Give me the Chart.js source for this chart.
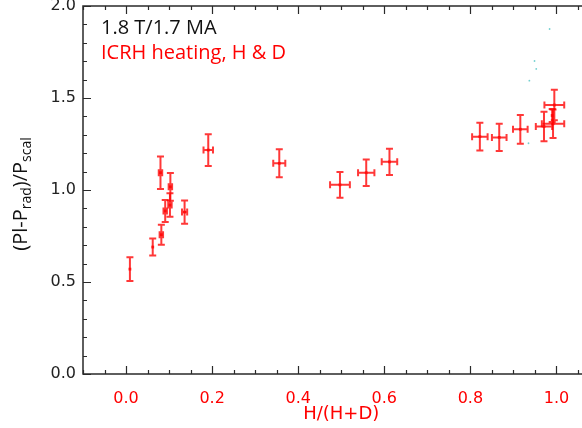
<!DOCTYPE html>
<html>
<head>
<meta charset="utf-8">
<script src="https://cdn.jsdelivr.net/npm/chart.js@4.4.1/dist/chart.umd.min.js"></script>
<style>
  html, body { margin: 0; padding: 0; background: #fff; }
</style>
</head>
<body>
<canvas id="chart" width="582" height="428"></canvas>
<script>
// H/(H+D) and its error
const hFraction    = [0.009, 0.062, 0.082, 0.080, 0.091, 0.102, 0.103, 0.136, 0.191, 0.356, 0.497, 0.558, 0.612, 0.822, 0.867, 0.916, 0.971, 0.992, 0.990, 0.995];
const hFractionErr = [0.000, 0.000, 0.004, 0.004, 0.004, 0.004, 0.004, 0.006, 0.011, 0.014, 0.023, 0.019, 0.018, 0.018, 0.017, 0.017, 0.019, 0.026, 0.000, 0.023];
// (Pl-Prad)/Pscal and its error
const powerRatio    = [0.57, 0.69, 0.757, 1.094, 0.886, 0.918, 1.017, 0.88, 1.217, 1.145, 1.028, 1.094, 1.153, 1.29, 1.286, 1.33, 1.345, 1.36, 1.405, 1.462];
const powerRatioErr = [0.065, 0.046, 0.054, 0.088, 0.06, 0.064, 0.075, 0.063, 0.086, 0.076, 0.07, 0.072, 0.071, 0.076, 0.074, 0.078, 0.08, 0.078, 0.035, 0.083];
// faint stray dots in the top right
const strayX = [0.984, 0.949, 0.953, 0.937, 0.935];
const strayY = [1.875, 1.701, 1.658, 1.594, 1.254];

const xTicks = [0.0, 0.2, 0.4, 0.6, 0.8, 1.0];
const yTicks = [0.0, 0.5, 1.0, 1.5, 2.0];
const xMinorStep = 0.05;
const yMinorStep = 0.1;

const RED = '#ff0000';
const BAR = 'rgba(255, 0, 0, 0.78)';
const AXIS = '#2a2a2a';

// error bars drawn from the scales
const errorBars = {
  id: 'errorBars',
  afterDatasetsDraw(chart) {
    const ctx = chart.ctx;
    const xs = chart.scales.x, ys = chart.scales.y;
    const cap = 3.5;
    ctx.save();
    ctx.strokeStyle = BAR;
    ctx.lineWidth = 2;
    hFraction.forEach((x, i) => {
      const px = xs.getPixelForValue(x);
      const py = ys.getPixelForValue(powerRatio[i]);
      const y1 = ys.getPixelForValue(powerRatio[i] - powerRatioErr[i]);
      const y2 = ys.getPixelForValue(powerRatio[i] + powerRatioErr[i]);
      ctx.beginPath();
      ctx.moveTo(px, y1); ctx.lineTo(px, y2);
      ctx.moveTo(px - cap, y1); ctx.lineTo(px + cap, y1);
      ctx.moveTo(px - cap, y2); ctx.lineTo(px + cap, y2);
      if (hFractionErr[i] > 0) {
        const x1 = xs.getPixelForValue(x - hFractionErr[i]);
        const x2 = xs.getPixelForValue(x + hFractionErr[i]);
        ctx.moveTo(x1, py); ctx.lineTo(x2, py);
        ctx.moveTo(x1, py - cap); ctx.lineTo(x1, py + cap);
        ctx.moveTo(x2, py - cap); ctx.lineTo(x2, py + cap);
      }
      ctx.stroke();
    });
    ctx.restore();
  }
};

// IDL style frame, ticks pointing inward, titles and notes
const frame = {
  id: 'frame',
  afterDraw(chart) {
    const ctx = chart.ctx;
    const { left, top, bottom } = chart.chartArea;
    const xs = chart.scales.x, ys = chart.scales.y;
    const W = chart.width;
    ctx.save();
    ctx.strokeStyle = AXIS;
    ctx.lineWidth = 1.5;
    ctx.beginPath();
    ctx.moveTo(W, top); ctx.lineTo(left, top); ctx.lineTo(left, bottom); ctx.lineTo(W, bottom);
    ctx.stroke();

    ctx.lineWidth = 1.2;
    ctx.beginPath();
    for (let k = 0; ; k++) {
      const v = -0.1 + k * xMinorStep;
      if (v > xs.max + 1e-9) break;
      const major = xTicks.some(t => Math.abs(t - v) < 1e-6);
      const len = major ? 8 : 4;
      const px = Math.round(xs.getPixelForValue(v)) + 0.5;
      ctx.moveTo(px, bottom); ctx.lineTo(px, bottom - len);
      ctx.moveTo(px, top); ctx.lineTo(px, top + len);
    }
    for (let k = 0; ; k++) {
      const v = k * yMinorStep;
      if (v > ys.max + 1e-9) break;
      const major = yTicks.some(t => Math.abs(t - v) < 1e-6);
      const len = major ? 8 : 4;
      const py = Math.round(ys.getPixelForValue(v)) + 0.5;
      ctx.moveTo(left, py); ctx.lineTo(left + len, py);
    }
    ctx.stroke();

    // x title
    ctx.fillStyle = RED;
    ctx.font = '18px "DejaVu Sans"';
    ctx.textAlign = 'center';
    ctx.textBaseline = 'middle';
    ctx.fillText('H/(H+D)', xs.getPixelForValue(0.5), 414);

    // y title with subscripts
    const runs = [
      ['(Pl-P', 20, 0], ['rad', 14, 4], [')/P', 20, 0], ['scal', 14, 4]
    ];
    ctx.save();
    ctx.translate(27, 194);
    ctx.rotate(-Math.PI / 2);
    ctx.fillStyle = '#111';
    ctx.textAlign = 'left';
    ctx.textBaseline = 'alphabetic';
    let total = 0;
    runs.forEach(r => { ctx.font = r[1] + 'px "Open Sans"'; total += ctx.measureText(r[0]).width; });
    let cx = -total / 2;
    runs.forEach(r => {
      ctx.font = r[1] + 'px "Open Sans"';
      ctx.fillText(r[0], cx, r[2]);
      cx += ctx.measureText(r[0]).width;
    });
    ctx.restore();

    // notes
    ctx.textAlign = 'left';
    ctx.textBaseline = 'alphabetic';
    ctx.font = '20px "Open Sans"';
    ctx.fillStyle = '#111';
    ctx.fillText('1.8 T/1.7 MA', left + 18, 34);
    ctx.fillStyle = RED;
    ctx.fillText('ICRH heating, H & D', left + 18, 59);
    ctx.restore();
  }
};

const pts = hFraction.map((x, i) => ({ x: x, y: powerRatio[i] }));
const stray = strayX.map((x, i) => ({ x: x, y: strayY[i] }));

new Chart(document.getElementById('chart').getContext('2d'), {
  type: 'scatter',
  data: {
    datasets: [
      { data: pts, pointStyle: 'rect', pointRadius: 2, backgroundColor: BAR, borderWidth: 0 },
      { data: stray, pointRadius: 0.9, backgroundColor: 'rgba(0, 170, 170, 0.55)', borderWidth: 0 }
    ]
  },
  options: {
    responsive: false,
    animation: false,
    devicePixelRatio: 1,
    layout: { padding: { top: 6, right: 4, left: 0, bottom: 0 } },
    plugins: { legend: { display: false }, tooltip: { enabled: false } },
    scales: {
      x: {
        type: 'linear', min: -0.1, max: 1.05,
        afterBuildTicks: s => { s.ticks = xTicks.map(v => ({ value: v })); },
        afterFit: s => { s.height = 54; s.paddingLeft = 0; s.paddingRight = 0; },
        grid: { display: false, drawTicks: false },
        border: { display: false },
        ticks: { color: RED, padding: 15, maxRotation: 0, autoSkip: false,
                 font: { family: 'DejaVu Sans', size: 16 },
                 callback: v => v.toFixed(1) }
      },
      y: {
        type: 'linear', min: 0, max: 2,
        afterBuildTicks: s => { s.ticks = yTicks.map(v => ({ value: v })); },
        afterFit: s => { s.width = 83; s.paddingTop = 0; s.paddingBottom = 0; },
        grid: { display: false, drawTicks: false },
        border: { display: false },
        ticks: { color: '#222', padding: 7, autoSkip: false,
                 font: { family: 'DejaVu Sans', size: 16 },
                 callback: v => v.toFixed(1) }
      }
    }
  },
  plugins: [errorBars, frame]
});
</script>
</body>
</html>
